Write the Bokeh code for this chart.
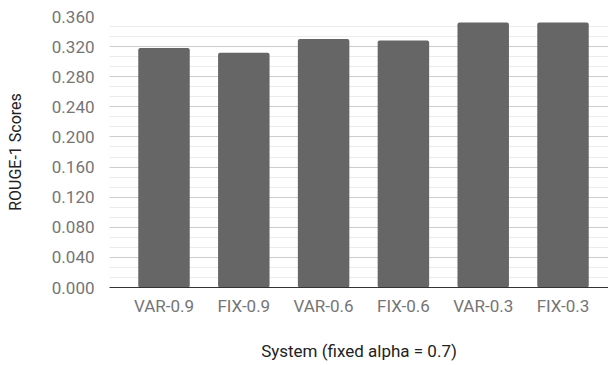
from bokeh.plotting import figure
from bokeh.models import Range1d, SingleIntervalTicker, FixedTicker, NumeralTickFormatter
from bokeh.embed import file_html
from bokeh.resources import INLINE

categories = ["VAR-0.9", "FIX-0.9", "VAR-0.6", "FIX-0.6", "VAR-0.3", "FIX-0.3"]
rouge1 = [0.318, 0.312, 0.330, 0.328, 0.352, 0.352]
x_title = "System (fixed alpha = 0.7)"
y_title = "ROUGE-1 Scores"

xs = list(range(len(categories)))

p = figure(width=608, height=365, output_backend="svg", toolbar_location=None,
           x_range=Range1d(-0.683, 5.570), y_range=Range1d(0, 0.36),
           min_border_left=109, min_border_right=0, min_border_top=16, min_border_bottom=78)
p.outline_line_color = None
p.background_fill_color = "white"

p.vbar(x=xs, top=rouge1, width=0.645, bottom=0, fill_color="#666666", line_color=None,
       border_radius=2)

font = "Roboto"
# y axis
p.yaxis.ticker = SingleIntervalTicker(interval=0.04, num_minor_ticks=3)
p.yaxis.formatter = NumeralTickFormatter(format="0.000")
p.yaxis.axis_line_color = None
p.yaxis.major_tick_line_color = None
p.yaxis.minor_tick_line_color = None
p.yaxis.major_label_text_font = font
p.yaxis.major_label_text_font_size = "17px"
p.yaxis.major_label_text_color = "#757575"
p.yaxis.major_label_standoff = 9
p.yaxis.axis_label = y_title
p.yaxis.axis_label_text_font = font
p.yaxis.axis_label_text_font_style = "normal"
p.yaxis.axis_label_text_font_size = "16px"
p.yaxis.axis_label_text_color = "#222222"
p.yaxis.axis_label_standoff = 24

# x axis
p.xaxis.ticker = FixedTicker(ticks=xs)
p.xaxis.major_label_overrides = {i: c for i, c in zip(xs, categories)}
p.xaxis.axis_line_color = "#333333"
p.xaxis.axis_line_width = 1
p.xaxis.major_tick_line_color = None
p.xaxis.minor_tick_line_color = None
p.xaxis.major_label_text_font = font
p.xaxis.major_label_text_font_size = "17px"
p.xaxis.major_label_text_color = "#757575"
p.xaxis.major_label_standoff = 2
p.xaxis.axis_label = x_title
p.xaxis.axis_label_text_font = font
p.xaxis.axis_label_text_font_style = "normal"
p.xaxis.axis_label_text_font_size = "17px"
p.xaxis.axis_label_text_color = "#222222"
p.xaxis.axis_label_standoff = 22

p.xgrid.grid_line_color = None
p.ygrid.grid_line_color = "#cccccc"
p.ygrid.minor_grid_line_color = "#ebebeb"

open("out.html", "w").write(file_html(p, INLINE))
